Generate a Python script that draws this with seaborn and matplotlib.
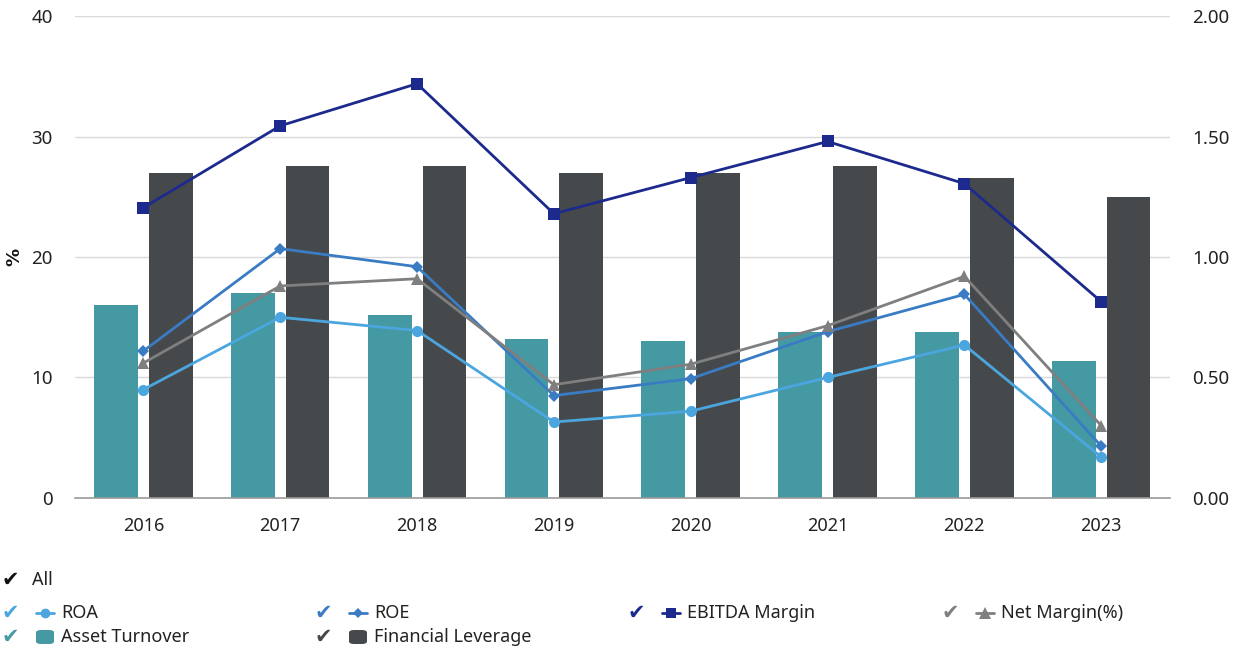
import numpy as np
import pandas as pd
import matplotlib
matplotlib.use("Agg")
import matplotlib.pyplot as plt
from matplotlib.lines import Line2D
from matplotlib.patches import FancyBboxPatch
import seaborn as sns

# ---- data -------------------------------------------------------------
years = ["2016", "2017", "2018", "2019", "2020", "2021", "2022", "2023"]

roa = [9.0, 15.0, 13.9, 6.3, 7.2, 10.0, 12.7, 3.4]
roe = [12.2, 20.7, 19.2, 8.5, 9.9, 13.8, 16.9, 4.3]
ebitda_margin = [24.1, 30.9, 34.4, 23.6, 26.6, 29.6, 26.1, 16.3]
net_margin = [11.2, 17.6, 18.2, 9.4, 11.1, 14.3, 18.4, 6.0]

asset_turnover = [0.80, 0.85, 0.76, 0.66, 0.65, 0.69, 0.69, 0.57]
financial_leverage = [1.35, 1.38, 1.38, 1.35, 1.35, 1.38, 1.33, 1.25]

left_ticks = [0, 10, 20, 30, 40]
right_ticks = [0.0, 0.5, 1.0, 1.5, 2.0]

# ---- styling ----------------------------------------------------------
C_ROA = "#4ba6e0"
C_ROE = "#3a7cc4"
C_EBITDA = "#1b2a8c"
C_NET = "#7f7f7f"
C_AT = "#4599a3"
C_FL = "#46494b"
TXT = "#222222"

sns.set_theme(style="white")
plt.rcParams["font.family"] = ["Noto Sans", "DejaVu Sans"]

fig = plt.figure(figsize=(12.39, 6.5), dpi=100)
ax = fig.add_axes([0.0605, 0.234, 0.8835, 0.741])
ax2 = ax.twinx()

# bars on the right-hand scale
bars = pd.DataFrame({
    "year": years * 2,
    "value": asset_turnover + financial_leverage,
    "metric": ["Asset Turnover"] * len(years) + ["Financial Leverage"] * len(years),
})
sns.barplot(data=bars, x="year", y="value", hue="metric", order=years,
            palette={"Asset Turnover": C_AT, "Financial Leverage": C_FL},
            width=0.8, gap=0.2, saturation=1, legend=False, ax=ax2,
            linewidth=0, zorder=2)

# lines on the left-hand scale
xpos = np.arange(len(years))
series = [
    ("ROA", roa, C_ROA, "o", 8),
    ("ROE", roe, C_ROE, "D", 6),
    ("EBITDA Margin", ebitda_margin, C_EBITDA, "s", 8),
    ("Net Margin(%)", net_margin, C_NET, "^", 9),
]
for name, vals, col, mk, ms in series:
    sns.lineplot(x=xpos, y=vals, color=col, marker=mk, markersize=ms,
                 markeredgewidth=0, linewidth=2, ax=ax, legend=False)

ax.set_zorder(ax2.get_zorder() + 1)
ax.patch.set_visible(False)

# axes limits / ticks
ax.set_xlim(-0.5, len(years) - 0.5)
ax.set_ylim(0, 40)
ax2.set_ylim(0, 2.0)
ax.set_yticks(left_ticks)
ax2.set_yticks(right_ticks)
ax2.set_yticklabels([f"{v:.2f}" for v in right_ticks])
ax.set_xticks(xpos)
ax.set_xticklabels(years)
ax.set_xticks(np.arange(-0.5, len(years)), minor=True)
ax.tick_params(axis="x", which="major", length=0, pad=14, labelsize=13, labelcolor=TXT)
ax.tick_params(axis="x", which="minor", length=10, width=1, color="#9a9a9a", direction="out")
ax.tick_params(axis="y", length=0, pad=16, labelsize=13.5, labelcolor=TXT)
ax2.tick_params(axis="y", length=0, pad=16, labelsize=13.5, labelcolor=TXT)
for a in (ax, ax2):
    a.set_xlabel("")
    a.set_ylabel("")
    for s in a.spines.values():
        s.set_visible(False)
ax.spines["bottom"].set_visible(True)
ax.spines["bottom"].set_color("#9a9a9a")
ax.spines["bottom"].set_linewidth(1.2)

ax2.grid(axis="y", color="#d9d9d9", linewidth=1)
ax2.set_axisbelow(True)

ax.set_ylabel("%", fontsize=13, fontweight="bold", color="#111111",
              family=["DejaVu Sans"], labelpad=6)

# ---- legend -----------------------------------------------------------
W, H = fig.get_size_inches() * fig.dpi


def fx(px):
    return px / W


def fy(py):
    return 1 - py / H


def check(px, py, col):
    fig.text(fx(px), fy(py), "\u2714", color=col, fontsize=15,
             family=["DejaVu Sans"], va="center", ha="left")


fig.text(fx(32), fy(580), "All", fontsize=13, color=TXT, va="center", ha="left")
check(2, 580, "#111111")

line_entries = [
    ("ROA", C_ROA, "o", 7, 2, 613),
    ("ROE", C_ROE, "D", 5, 315, 613),
    ("EBITDA Margin", C_EBITDA, "s", 7, 628, 613),
    ("Net Margin(%)", C_NET, "^", 8, 942, 613),
]
for name, col, mk, ms, px, py in line_entries:
    check(px, py, col)
    fig.add_artist(Line2D([fx(px + 34), fx(px + 43), fx(px + 52)], [fy(py)] * 3,
                          transform=fig.transFigure, color=col, lw=2,
                          marker=mk, markersize=ms, markevery=[1],
                          markeredgewidth=0))
    fig.text(fx(px + 59), fy(py), name, fontsize=13, color=TXT, va="center", ha="left")

bar_entries = [
    ("Asset Turnover", C_AT, 2, 637),
    ("Financial Leverage", C_FL, 315, 637),
]
for name, col, px, py in bar_entries:
    check(px, py, col)
    fig.add_artist(FancyBboxPatch((fx(px + 34), fy(py + 7)), fx(18), 14 / H,
                                  boxstyle="round,pad=0,rounding_size=0.004",
                                  transform=fig.transFigure, color=col, lw=0))
    fig.text(fx(px + 59), fy(py), name, fontsize=13, color=TXT, va="center", ha="left")

fig.savefig("out.png", dpi=100, facecolor="white")
